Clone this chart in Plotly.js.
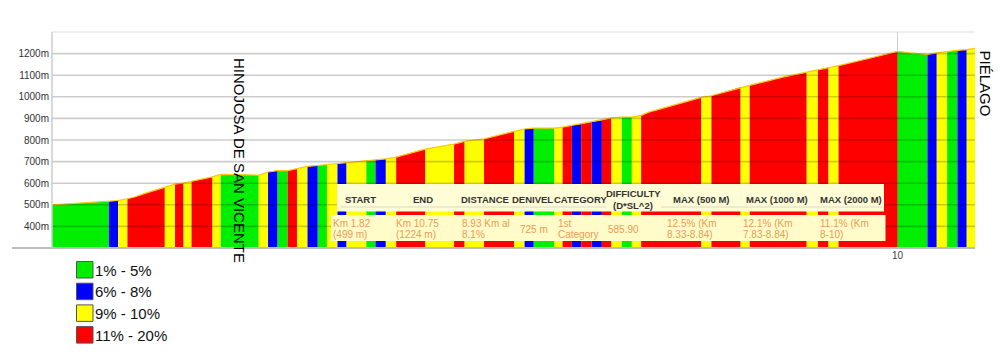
<!DOCTYPE html>
<html><head><meta charset="utf-8">
<script src="https://cdn.plot.ly/plotly-3.0.1.min.js"></script>
<style>html,body{margin:0;padding:0;background:#fff;}#chart{width:1000px;height:356px;}</style>
</head><body><div id="chart"></div>
<script>
// ---- data ----
const breaksKm = [1.82, 2.37, 2.46, 2.55, 2.91, 3.01, 3.09, 3.17, 3.37, 3.45, 3.82, 3.91, 4.00, 4.10, 4.19, 4.29, 4.39, 4.48, 4.58, 4.67, 4.77, 4.86, 4.95, 5.05, 5.15, 5.43, 5.53, 5.71, 5.81, 6.00, 6.29, 6.39, 6.48, 6.68, 6.76, 6.85, 6.94, 7.04, 7.14, 7.23, 7.33, 7.43, 7.52, 8.10, 8.20, 8.48, 8.57, 9.12, 9.23, 9.33, 9.43, 10.00, 10.29, 10.38, 10.48, 10.58, 10.67, 10.75];
// 0: 1-5%, 1: 6-8%, 2: 9-10%, 3: 11-20%
const segClass = [0,1,2,3,2,3,2,3,2,0,2,1,0,3,2,1,0,2,1,2,2,0,1,2,3,2,2,3,2,3,2,1,0,2,3,1,3,1,3,2,0,2,3,2,3,2,3,2,3,2,3,0,1,2,0,1,2];
const profKm = [1.82, 2.10, 2.37, 2.46, 2.55, 2.62, 2.72, 2.91, 3.01, 3.09, 3.17, 3.37, 3.45, 3.63, 3.82, 3.91, 4.00, 4.10, 4.19, 4.29, 4.39, 4.48, 4.58, 4.67, 4.77, 4.86, 4.95, 5.05, 5.15, 5.43, 5.53, 5.71, 5.81, 6.00, 6.29, 6.39, 6.48, 6.68, 6.76, 6.85, 6.94, 7.04, 7.14, 7.23, 7.33, 7.43, 7.52, 7.60, 7.70, 7.80, 8.10, 8.20, 8.48, 8.57, 8.90, 9.12, 9.23, 9.33, 9.43, 9.70, 10.00, 10.12, 10.29, 10.38, 10.48, 10.58, 10.67, 10.75];
const profElev = [500, 508, 515, 520, 528, 536, 553, 580, 596, 601, 608, 629, 641, 640, 637, 652, 658, 658, 666, 678, 682, 686, 690, 696, 700, 705, 709, 713, 721, 758, 766, 781, 794, 805, 840, 851, 855, 855, 860, 868, 874, 883, 891, 902, 906, 906, 914, 930, 943, 956, 997, 1005, 1044, 1053, 1092, 1113, 1125, 1136, 1144, 1175, 1210, 1203, 1196, 1203, 1210, 1215, 1218, 1224];
const classNames = ['1% - 5%', '6% - 8%', '9% - 10%', '11% - 20%'];
const classColors = ['#00ee00', '#0000ff', '#ffff00', '#ff0000'];
const yTicks = [400, 500, 600, 700, 800, 900, 1000, 1100, 1200];
const yTickText = ['400m', '500m', '600m', '700m', '800m', '900m', '1000m', '1100m', '1200m'];
const xTicks = [10];
const placeNames = ['HINOJOSA DE SAN VICENTE', 'PIÉLAGO'];
const placeKm = [3.64, 10.75];
const headerLine1 = ['START', 'END', 'DISTANCE', 'DENIVEL', 'CATEGORY', 'DIFFICULTY', 'MAX (500 M)', 'MAX (1000 M)', 'MAX (2000 M)'];
const headerLine2 = ['', '', '', '', '', '(D*SL^2)', '', '', ''];
const valueLine1 = ['Km 1.82', 'Km 10.75', '8.93 Km al', '725 m', '1st', '585.90', '12.5% (Km', '12.1% (Km', '11.1% (Km'];
const valueLine2 = ['(499 m)', '(1224 m)', '8.1%', '', 'Category', '', '8.33-8.84)', '7.83-8.84)', '8-10)'];

// ---- layout helpers (pixel -> paper) ----
const PL = 52, PT = 32, PW = 923, PH = 216;
const px = x => (x - PL) / PW;
const py = y => (PT + PH - y) / PH;
const Y_MIN = 300, Y_MAX = 1300;

function elevAt(k) {
  for (let i = 0; i < profKm.length - 1; i++) {
    if (k >= profKm[i] && k <= profKm[i + 1]) {
      const t = (k - profKm[i]) / (profKm[i + 1] - profKm[i]);
      return profElev[i] + t * (profElev[i + 1] - profElev[i]);
    }
  }
  return profElev[profElev.length - 1];
}

const traces = [];
classColors.forEach((col, c) => {
  const xs = [], ys = [];
  for (let s = 0; s < segClass.length; s++) {
    if (segClass[s] !== c) continue;
    const a = breaksKm[s], b = breaksKm[s + 1];
    xs.push(a); ys.push(Y_MIN - 50);
    xs.push(a); ys.push(elevAt(a));
    for (let i = 0; i < profKm.length; i++) {
      if (profKm[i] > a && profKm[i] < b) { xs.push(profKm[i]); ys.push(profElev[i]); }
    }
    xs.push(b); ys.push(elevAt(b));
    xs.push(b); ys.push(Y_MIN - 50);
    xs.push(null); ys.push(null);
  }
  traces.push({
    type: 'scatter', mode: 'lines', x: xs, y: ys, fill: 'toself', fillcolor: col,
    line: {width: 0, color: col}, name: classNames[c], showlegend: false, hoverinfo: 'skip'
  });
});
traces.push({
  type: 'scatter', mode: 'lines', x: profKm, y: profElev,
  line: {color: 'rgb(255,200,0)', width: 1.2}, showlegend: false, hoverinfo: 'skip'
});

const shapes = [];
yTicks.forEach(v => shapes.push({type: 'line', xref: 'paper', yref: 'y', x0: 0, x1: 1, y0: v, y1: v,
  layer: 'above', line: {color: 'rgba(0,0,0,0.2)', width: 1.6}}));
shapes.push({type: 'line', xref: 'paper', yref: 'paper', x0: 0, x1: 1, y0: 1, y1: 1, layer: 'above', line: {color: '#dddddd', width: 1}});
shapes.push({type: 'line', xref: 'paper', yref: 'paper', x0: px(12), x1: 1, y0: 0, y1: 0, layer: 'above', line: {color: '#bdbdbd', width: 2}});
shapes.push({type: 'line', xref: 'paper', yref: 'paper', x0: 0, x1: 0, y0: 0, y1: 1, layer: 'above', line: {color: '#cccccc', width: 1.5}});
shapes.push({type: 'rect', xref: 'paper', yref: 'paper', x0: px(337), x1: px(884), y0: py(211.5), y1: py(184), layer: 'above', fillcolor: '#fffdd6', line: {width: 0}});
shapes.push({type: 'rect', xref: 'paper', yref: 'paper', x0: px(331), x1: px(885.5), y0: py(241), y1: py(215), layer: 'above', fillcolor: '#fffcc9', line: {width: 0}});
shapes.push({type: 'line', xref: 'paper', yref: 'paper', x0: px(340), x1: px(606), y0: py(207), y1: py(207), layer: 'above', line: {color: '#d9d9cc', width: 1}});
shapes.push({type: 'line', xref: 'paper', yref: 'paper', x0: px(661), x1: px(882), y0: py(207), y1: py(207), layer: 'above', line: {color: '#d9d9cc', width: 1}});
classColors.forEach((col, i) => {
  const top = 261.5 + i * 21.7;
  shapes.push({type: 'rect', xref: 'paper', yref: 'paper', x0: px(76.5), x1: px(93), y0: py(top + 16.5), y1: py(top),
    fillcolor: col, line: {color: '#555555', width: 1}});
});

const annotations = [];
const FONT = 'Liberation Sans, Arial, sans-serif';
annotations.push({xref: 'x', yref: 'paper', x: placeKm[0], y: py(160), text: placeNames[0], textangle: 90,
  showarrow: false, xanchor: 'center', yanchor: 'middle', font: {family: FONT, size: 15, color: '#000'}});
annotations.push({xref: 'x', yref: 'paper', x: placeKm[1], xshift: 10, y: py(83.5), text: placeNames[1], textangle: 90,
  showarrow: false, xanchor: 'center', yanchor: 'middle', font: {family: FONT, size: 15, color: '#000'}});
classNames.forEach((n, i) => {
  annotations.push({xref: 'paper', yref: 'paper', x: px(95), y: py(270 + i * 21.7), text: n, showarrow: false,
    xanchor: 'left', yanchor: 'middle', borderpad: 0, borderwidth: 0, font: {family: FONT, size: 15, color: '#111'}});
});
const headCenters = [360, 423.3, 485.3, 532, 580, 633.3, 700.7, 776.7, 850.7];
const valLefts = [333.3, 395.7, 461.7, 520, 558.3, 608.3, 667.3, 742.7, 820];
const HFONT = {family: FONT, size: 9.5, color: '#333'};
const VFONT = {family: FONT, size: 10, color: '#ec9b52'};
headerLine1.forEach((h, i) => {
  const two = headerLine2[i] !== '';
  annotations.push({xref: 'paper', yref: 'paper', x: px(headCenters[i]), y: py(two ? 193.3 : 199), text: '<b>' + h + '</b>',
    showarrow: false, xanchor: 'center', yanchor: 'middle', borderpad: 0, borderwidth: 0, font: HFONT});
  if (two) annotations.push({xref: 'paper', yref: 'paper', x: px(headCenters[i]), y: py(205), text: '<b>' + headerLine2[i] + '</b>',
    showarrow: false, xanchor: 'center', yanchor: 'middle', borderpad: 0, borderwidth: 0, font: HFONT});
});
valueLine1.forEach((v, i) => {
  const two = valueLine2[i] !== '';
  annotations.push({xref: 'paper', yref: 'paper', x: px(valLefts[i]), y: py(two ? 223.3 : 229), text: v,
    showarrow: false, xanchor: 'left', yanchor: 'middle', borderpad: 0, borderwidth: 0, font: VFONT});
  if (two) annotations.push({xref: 'paper', yref: 'paper', x: px(valLefts[i]), y: py(234), text: valueLine2[i],
    showarrow: false, xanchor: 'left', yanchor: 'middle', borderpad: 0, borderwidth: 0, font: VFONT});
});

const layout = {
  width: 1000, height: 356,
  margin: {l: PL, r: 1000 - PL - PW, t: PT, b: 356 - PT - PH, pad: 0},
  paper_bgcolor: '#fff', plot_bgcolor: '#fff',
  showlegend: false,
  xaxis: {range: [breaksKm[0], breaksKm[breaksKm.length - 1]], tickvals: xTicks, ticktext: xTicks.map(String),
    showgrid: true, gridcolor: '#cccccc', gridwidth: 1, zeroline: false, showline: false, ticks: '',
    tickfont: {family: FONT, size: 10, color: '#444'}, fixedrange: true},
  yaxis: {range: [Y_MIN, Y_MAX], tickvals: yTicks, ticktext: yTickText, showgrid: false, zeroline: false,
    showline: false, ticks: '', ticklabelstandoff: 2,
    tickfont: {family: FONT, size: 10, color: '#333'}, fixedrange: true},
  shapes: shapes, annotations: annotations
};
Plotly.newPlot('chart', traces, layout, {staticPlot: true, displayModeBar: false});
</script></body></html>
